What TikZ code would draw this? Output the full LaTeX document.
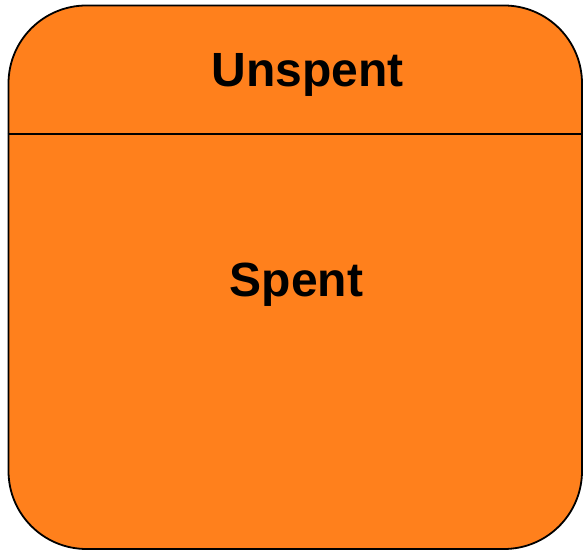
\documentclass[tikz,border=0pt]{standalone}
\usepackage{fontspec}
\setmainfont{Liberation Sans}
\definecolor{coinorange}{RGB}{255,128,28}
\begin{document}
\begin{tikzpicture}[x=1pt,y=1pt,
    label text/.style={font=\fontsize{48}{52}\selectfont\bfseries,anchor=base,inner sep=0pt}]

    \def\w{573.5}	 %width of box
    \def\h{543.5}	 %height of box
    \def\r{78}	 %corner radius

    \useasboundingbox (0,0) rectangle (584,551);

    %BOX
    \node[draw,line width=1.8pt,fill=coinorange,rounded corners=\r pt,
          minimum width=\w pt,minimum height=\h pt,inner sep=0pt] (coin) at (295.25,273.75) {};

    %divider between the two states
    \coordinate (divL) at (coin.west |- 0,417);
    \coordinate (divR) at (coin.east |- 0,417);
    \draw[line width=2.6pt] (divL)--(divR);

    \node[label text] (unspent) at (307.5,464) {Unspent};
    \node[label text] (spent) at (296.5,254) {Spent};
\end{tikzpicture}
\end{document}
